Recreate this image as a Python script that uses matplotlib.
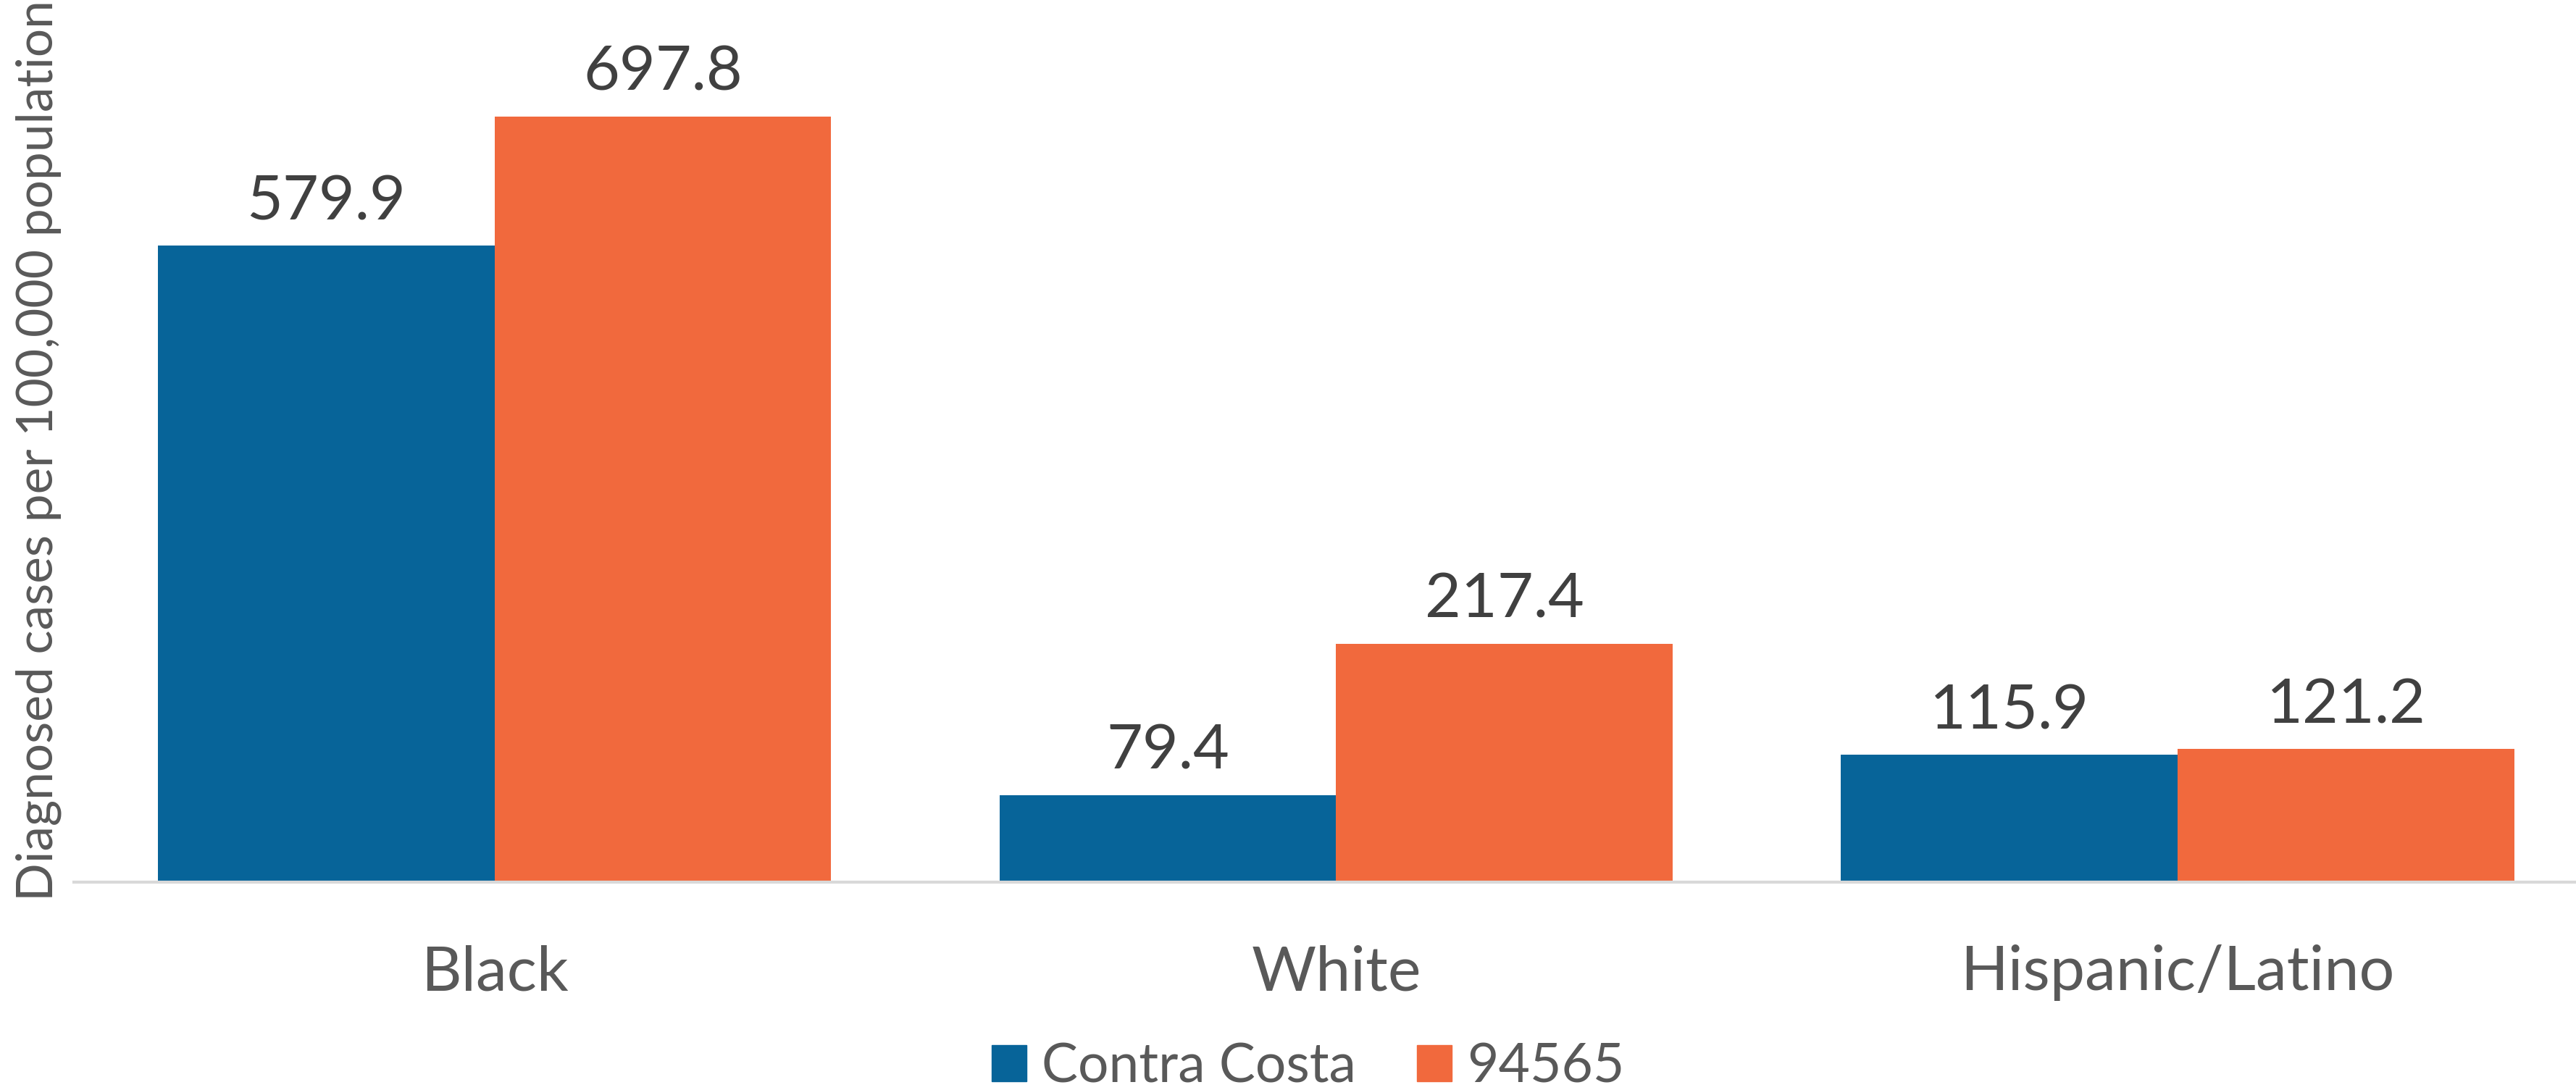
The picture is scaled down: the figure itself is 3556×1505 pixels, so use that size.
import numpy as np
import matplotlib.pyplot as plt
from matplotlib.patches import Patch

# data
groups = ['Black', 'White', 'Hispanic/Latino']
contra_costa = [579.9, 79.4, 115.9]
zip_94565 = [697.8, 217.4, 121.2]
series_names = ['Contra Costa', '94565']

blue = '#076499'
orange = '#F1693D'
label_grey = '#595959'
value_grey = '#404040'

plt.rcParams['font.family'] = ['Lato', 'DejaVu Sans']

W, H = 3556, 1505
fig = plt.figure(figsize=(W / 100, H / 100), dpi=100)
# axes box in pixels: left 102, bottom edge at baseline y=1218, top at 0
ax = fig.add_axes([102 / W, 1 - 1218 / H, 1 - 102 / W, 1218 / H])

x = np.arange(len(groups))
w = 0.4
b1 = ax.bar(x - w / 2, contra_costa, w, color=blue, label=series_names[0])
b2 = ax.bar(x + w / 2, zip_94565, w, color=orange, label=series_names[1])

# value labels above each bar
for bars in (b1, b2):
    for rect in bars:
        v = rect.get_height()
        ax.annotate(f'{v:.1f}', (rect.get_x() + rect.get_width() / 2, v),
                    xytext=(0, 26), textcoords='offset points',
                    ha='center', va='baseline', fontsize=62, color=value_grey)

ax.set_xlim(-0.5, 2.5 - 31 / 1162)
ax.set_ylim(0, 804)
ax.set_xticks(x)
ax.set_xticklabels(groups, fontsize=62, color=label_grey)
ax.tick_params(axis='x', length=0, pad=62)
ax.set_yticks([])

for s in ['top', 'right', 'left']:
    ax.spines[s].set_visible(False)
ax.spines['bottom'].set_color('#D9D9D9')
ax.spines['bottom'].set_linewidth(3)

fig.text(53 / W, 1 - 622 / H, 'Diagnosed cases per 100,000 population',
         rotation=90, ha='center', va='center', fontsize=50, color=label_grey)

handles = [Patch(color=blue), Patch(color=orange)]
fig.legend(handles, series_names, loc='center', bbox_to_anchor=(1806 / W, 1 - 1473 / H),
           frameon=False, ncol=2, fontsize=54, handlelength=0.64, handleheight=0.64,
           handletextpad=0.28, columnspacing=1.12, borderpad=0, labelcolor=label_grey)

fig.savefig('out.png', dpi=100, facecolor='white')
